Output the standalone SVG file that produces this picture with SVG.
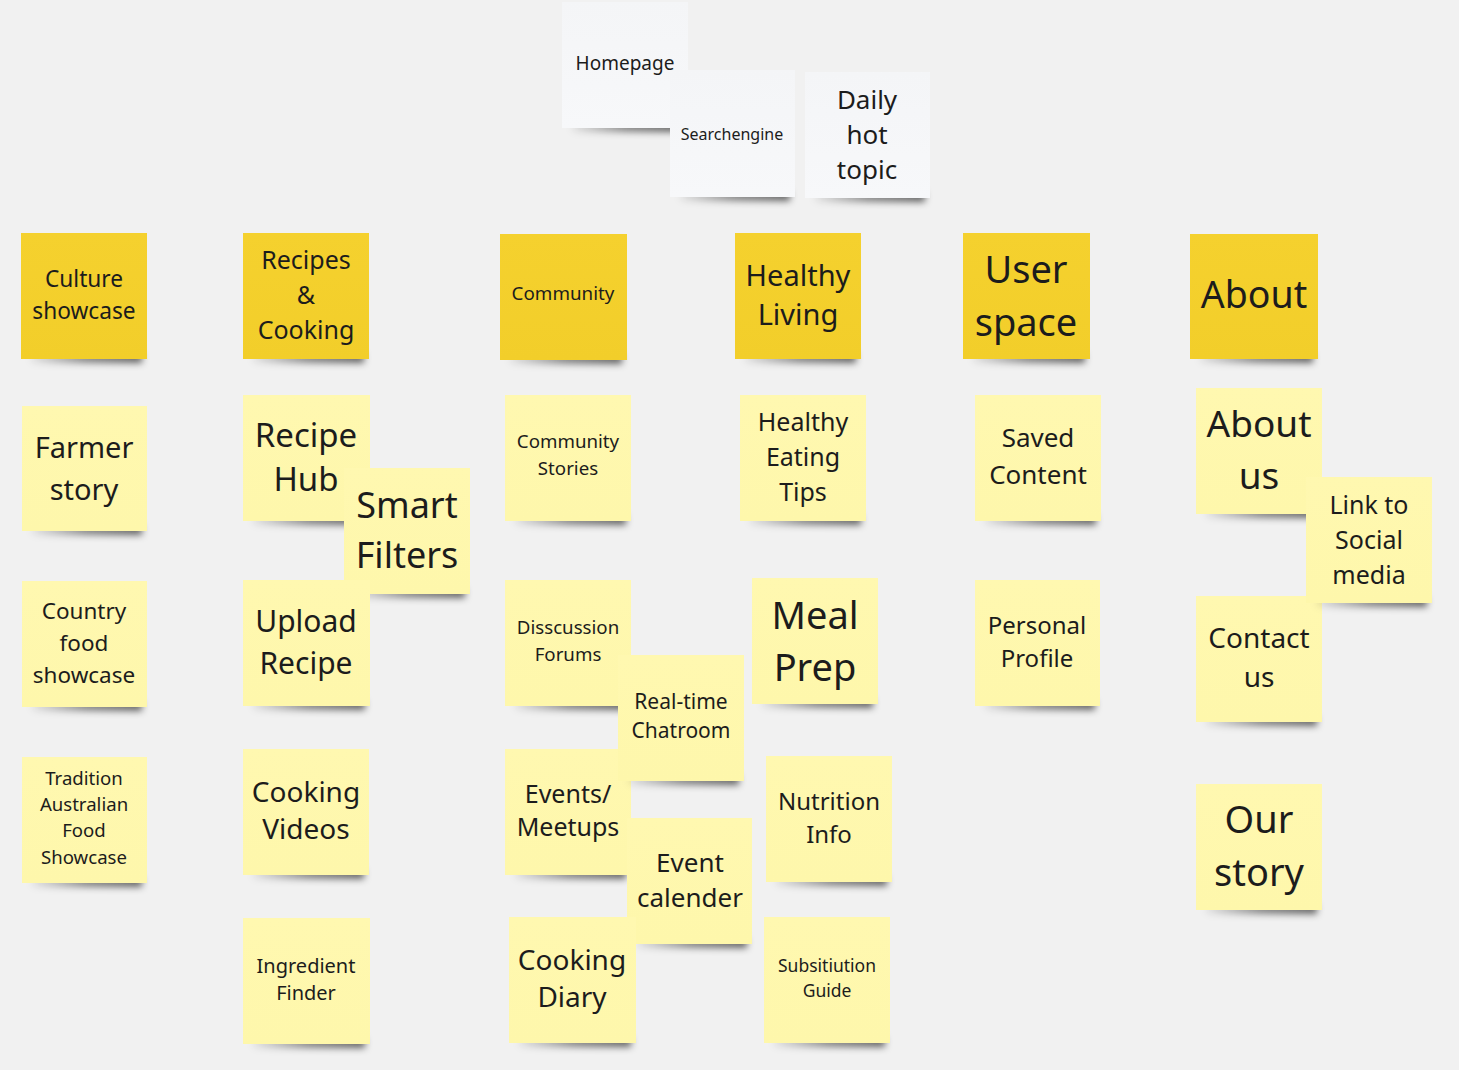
<svg xmlns="http://www.w3.org/2000/svg" width="1459" height="1070" viewBox="0 0 1459 1070">
  <defs>
    <filter id="soft" x="-20%" y="-200%" width="140%" height="500%">
      <feGaussianBlur stdDeviation="3.5"/>
    </filter>
    <linearGradient id="shadeGrad" x1="0" y1="0" x2="1" y2="0">
      <stop offset="0" stop-color="#000" stop-opacity="0.05"/>
      <stop offset="0.5" stop-color="#000" stop-opacity="0.45"/>
      <stop offset="1" stop-color="#000" stop-opacity="0.6"/>
    </linearGradient>
    <linearGradient id="gHeader" x1="0" y1="0" x2="0" y2="1">
      <stop offset="0" stop-color="#f5d12e"/>
      <stop offset="1" stop-color="#f2ce2a"/>
    </linearGradient>
    <linearGradient id="gNote" x1="0" y1="0" x2="0" y2="1">
      <stop offset="0" stop-color="#fff8b0"/>
      <stop offset="1" stop-color="#fef7ab"/>
    </linearGradient>
    <linearGradient id="gWhite" x1="0" y1="0" x2="0" y2="1">
      <stop offset="0" stop-color="#f4f5f7"/>
      <stop offset="1" stop-color="#f7f8fa"/>
    </linearGradient>
  </defs>
  <style>
    .shadow { fill: url(#shadeGrad); filter: url(#soft); }
    .header { fill: url(#gHeader); }
    .note { fill: url(#gNote); }
    .white { fill: url(#gWhite); }
    text { font-family: "Noto Sans", "Open Sans", "DejaVu Sans", sans-serif; fill: #1c1c1c; text-anchor: middle; }
  </style>

  <rect x="0" y="0" width="1459" height="1070" fill="#f1f1f1"/>

  <!-- top row: white notes -->
  <g id="homepage">
    <rect class="shadow" x="572" y="122" width="110" height="10"/>
    <rect class="white" x="562" y="2" width="126" height="126"/>
    <text x="625" y="70" font-size="19">Homepage</text>
  </g>
  <g id="searchengine">
    <rect class="shadow" x="680" y="191" width="110" height="10"/>
    <rect class="white" x="670" y="70" width="125" height="127"/>
    <text x="732" y="140" font-size="16">Searchengine</text>
  </g>
  <g id="daily-hot-topic">
    <rect class="shadow" x="815" y="192" width="110" height="10"/>
    <rect class="white" x="805" y="72" width="125" height="126"/>
    <text x="867" y="109" font-size="26">Daily</text>
    <text x="867" y="144" font-size="26">hot</text>
    <text x="867" y="179" font-size="26">topic</text>
  </g>

  <!-- category headers -->
  <g id="culture-showcase">
    <rect class="shadow" x="31" y="353" width="111" height="10"/>
    <rect class="header" x="21" y="233" width="126" height="126"/>
    <text x="84" y="287" font-size="22.7">Culture</text>
    <text x="84" y="319" font-size="22.7">showcase</text>
  </g>
  <g id="recipes-cooking">
    <rect class="shadow" x="253" y="353" width="111" height="10"/>
    <rect class="header" x="243" y="233" width="126" height="126"/>
    <text x="306" y="269" font-size="25">Recipes</text>
    <text x="306" y="304" font-size="25">&amp;</text>
    <text x="306" y="339" font-size="25">Cooking</text>
  </g>
  <g id="community">
    <rect class="shadow" x="510" y="354" width="112" height="10"/>
    <rect class="header" x="500" y="234" width="127" height="126"/>
    <text x="563" y="300" font-size="18.8">Community</text>
  </g>
  <g id="healthy-living">
    <rect class="shadow" x="745" y="353" width="111" height="10"/>
    <rect class="header" x="735" y="233" width="126" height="126"/>
    <text x="798" y="286" font-size="29">Healthy</text>
    <text x="798" y="325" font-size="29">Living</text>
  </g>
  <g id="user-space">
    <rect class="shadow" x="973" y="353" width="112" height="10"/>
    <rect class="header" x="963" y="233" width="127" height="126"/>
    <text x="1026" y="283" font-size="38">User</text>
    <text x="1026" y="336" font-size="38">space</text>
  </g>
  <g id="about">
    <rect class="shadow" x="1200" y="353" width="113" height="10"/>
    <rect class="header" x="1190" y="234" width="128" height="125"/>
    <text x="1254" y="308" font-size="37.5">About</text>
  </g>

  <!-- culture column -->
  <g id="farmer-story">
    <rect class="shadow" x="32" y="525" width="110" height="10"/>
    <rect class="note" x="22" y="406" width="125" height="125"/>
    <text x="84" y="458" font-size="29">Farmer</text>
    <text x="84" y="500" font-size="29">story</text>
  </g>
  <g id="country-food-showcase">
    <rect class="shadow" x="32" y="701" width="110" height="10"/>
    <rect class="note" x="22" y="581" width="125" height="126"/>
    <text x="84" y="619" font-size="22.5">Country</text>
    <text x="84" y="651" font-size="22.5">food</text>
    <text x="84" y="683" font-size="22.5">showcase</text>
  </g>
  <g id="tradition-australian-food">
    <rect class="shadow" x="32" y="877" width="110" height="10"/>
    <rect class="note" x="22" y="757" width="125" height="126"/>
    <text x="84" y="785" font-size="18.6">Tradition</text>
    <text x="84" y="811" font-size="18.6">Australian</text>
    <text x="84" y="837" font-size="18.6">Food</text>
    <text x="84" y="864" font-size="18.6">Showcase</text>
  </g>

  <!-- recipes column -->
  <g id="recipe-hub">
    <rect class="shadow" x="253" y="515" width="112" height="10"/>
    <rect class="note" x="243" y="395" width="127" height="126"/>
    <text x="306" y="447" font-size="33">Recipe</text>
    <text x="306" y="491" font-size="33">Hub</text>
  </g>
  <g id="smart-filters">
    <rect class="shadow" x="354" y="588" width="111" height="10"/>
    <rect class="note" x="344" y="468" width="126" height="126"/>
    <text x="407" y="518" font-size="36">Smart</text>
    <text x="407" y="568" font-size="36">Filters</text>
  </g>
  <g id="upload-recipe">
    <rect class="shadow" x="253" y="700" width="112" height="10"/>
    <rect class="note" x="243" y="580" width="127" height="126"/>
    <text x="306" y="632" font-size="30">Upload</text>
    <text x="306" y="674" font-size="30">Recipe</text>
  </g>
  <g id="cooking-videos">
    <rect class="shadow" x="253" y="869" width="111" height="10"/>
    <rect class="note" x="243" y="749" width="126" height="126"/>
    <text x="306" y="802" font-size="28">Cooking</text>
    <text x="306" y="839" font-size="28">Videos</text>
  </g>
  <g id="ingredient-finder">
    <rect class="shadow" x="253" y="1038" width="112" height="10"/>
    <rect class="note" x="243" y="918" width="127" height="126"/>
    <text x="306" y="973" font-size="20">Ingredient</text>
    <text x="306" y="1000" font-size="20">Finder</text>
  </g>

  <!-- community column -->
  <g id="community-stories">
    <rect class="shadow" x="515" y="515" width="111" height="10"/>
    <rect class="note" x="505" y="395" width="126" height="126"/>
    <text x="568" y="448" font-size="18.7">Community</text>
    <text x="568" y="475" font-size="18.7">Stories</text>
  </g>
  <g id="disscussion-forums">
    <rect class="shadow" x="515" y="700" width="111" height="10"/>
    <rect class="note" x="505" y="580" width="126" height="126"/>
    <text x="568" y="634" font-size="18.7">Disscussion</text>
    <text x="568" y="661" font-size="18.7">Forums</text>
  </g>
  <g id="events-meetups">
    <rect class="shadow" x="515" y="869" width="111" height="10"/>
    <rect class="note" x="505" y="749" width="126" height="126"/>
    <text x="568" y="803" font-size="25">Events/</text>
    <text x="568" y="836" font-size="25">Meetups</text>
  </g>
  <g id="real-time-chatroom">
    <rect class="shadow" x="628" y="775" width="111" height="10"/>
    <rect class="note" x="618" y="655" width="126" height="126"/>
    <text x="681" y="709" font-size="21">Real-time</text>
    <text x="681" y="738" font-size="21">Chatroom</text>
  </g>
  <g id="event-calender">
    <rect class="shadow" x="637" y="938" width="110" height="10"/>
    <rect class="note" x="627" y="818" width="125" height="126"/>
    <text x="690" y="872" font-size="26">Event</text>
    <text x="690" y="907" font-size="26">calender</text>
  </g>
  <g id="cooking-diary">
    <rect class="shadow" x="519" y="1037" width="112" height="10"/>
    <rect class="note" x="509" y="917" width="127" height="126"/>
    <text x="572" y="970" font-size="28">Cooking</text>
    <text x="572" y="1007" font-size="28">Diary</text>
  </g>

  <!-- healthy living column -->
  <g id="healthy-eating-tips">
    <rect class="shadow" x="750" y="515" width="111" height="10"/>
    <rect class="note" x="740" y="395" width="126" height="126"/>
    <text x="803" y="431" font-size="25">Healthy</text>
    <text x="803" y="466" font-size="25">Eating</text>
    <text x="803" y="501" font-size="25">Tips</text>
  </g>
  <g id="meal-prep">
    <rect class="shadow" x="762" y="698" width="111" height="10"/>
    <rect class="note" x="752" y="578" width="126" height="126"/>
    <text x="815" y="629" font-size="38">Meal</text>
    <text x="815" y="681" font-size="38">Prep</text>
  </g>
  <g id="nutrition-info">
    <rect class="shadow" x="776" y="876" width="111" height="10"/>
    <rect class="note" x="766" y="756" width="126" height="126"/>
    <text x="829" y="810" font-size="24">Nutrition</text>
    <text x="829" y="843" font-size="24">Info</text>
  </g>
  <g id="subsitiution-guide">
    <rect class="shadow" x="774" y="1037" width="111" height="10"/>
    <rect class="note" x="764" y="917" width="126" height="126"/>
    <text x="827" y="972" font-size="17.5">Subsitiution</text>
    <text x="827" y="997" font-size="17.5">Guide</text>
  </g>

  <!-- user space column -->
  <g id="saved-content">
    <rect class="shadow" x="985" y="515" width="111" height="10"/>
    <rect class="note" x="975" y="395" width="126" height="126"/>
    <text x="1038" y="447" font-size="26">Saved</text>
    <text x="1038" y="484" font-size="26">Content</text>
  </g>
  <g id="personal-profile">
    <rect class="shadow" x="985" y="700" width="110" height="10"/>
    <rect class="note" x="975" y="580" width="125" height="126"/>
    <text x="1037" y="634" font-size="24">Personal</text>
    <text x="1037" y="667" font-size="24">Profile</text>
  </g>

  <!-- about column -->
  <g id="about-us">
    <rect class="shadow" x="1206" y="508" width="111" height="10"/>
    <rect class="note" x="1196" y="388" width="126" height="126"/>
    <text x="1259" y="437" font-size="37">About</text>
    <text x="1259" y="489" font-size="37">us</text>
  </g>
  <g id="contact-us">
    <rect class="shadow" x="1206" y="716" width="111" height="10"/>
    <rect class="note" x="1196" y="596" width="126" height="126"/>
    <text x="1259" y="648" font-size="28">Contact</text>
    <text x="1259" y="687" font-size="28">us</text>
  </g>
  <g id="link-to-social-media">
    <rect class="shadow" x="1316" y="597" width="111" height="10"/>
    <rect class="note" x="1306" y="477" width="126" height="126"/>
    <text x="1369" y="514" font-size="25">Link to</text>
    <text x="1369" y="549" font-size="25">Social</text>
    <text x="1369" y="584" font-size="25">media</text>
  </g>
  <g id="our-story">
    <rect class="shadow" x="1206" y="904" width="111" height="10"/>
    <rect class="note" x="1196" y="784" width="126" height="126"/>
    <text x="1259" y="833" font-size="38">Our</text>
    <text x="1259" y="886" font-size="38">story</text>
  </g>

  <!-- no connectors in this board -->
  <g id="connectors"/>
</svg>
